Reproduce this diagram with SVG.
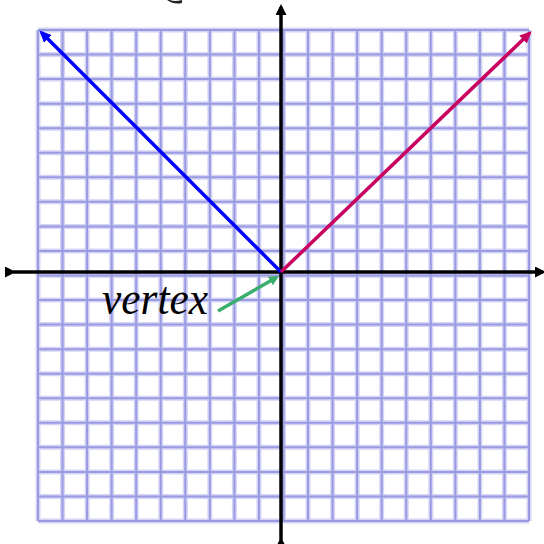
<svg xmlns="http://www.w3.org/2000/svg" width="544" height="544" viewBox="0 0 544 544">
<style>
.gridw{fill:none;stroke:#d4d4f5;stroke-width:5}
.gridc{fill:none;stroke:#9a9ae3;stroke-width:2}
.axis{fill:none;stroke:#000;stroke-width:3.5}
.label{font-family:"Liberation Serif","Times New Roman",serif;font-style:italic;font-size:46px;fill:#000}
</style>
<defs>
<marker id="ahK" markerUnits="userSpaceOnUse" markerWidth="12" markerHeight="11" refX="8" refY="5.5" orient="auto"><path d="M0,0 L11,5.5 L0,11 z" fill="#000"/></marker>
<marker id="ahB" markerUnits="userSpaceOnUse" markerWidth="13" markerHeight="11" refX="9" refY="5.5" orient="auto"><path d="M0,0 L12,5.5 L0,11 z" fill="#0000ff"/></marker>
<marker id="ahM" markerUnits="userSpaceOnUse" markerWidth="13" markerHeight="11" refX="9" refY="5.5" orient="auto"><path d="M0,0 L12,5.5 L0,11 z" fill="#c8005f"/></marker>
<marker id="ahG" markerUnits="userSpaceOnUse" markerWidth="11" markerHeight="10" refX="7" refY="5" orient="auto"><path d="M0,0 L10,5 L0,10 z" fill="#3aae6c"/></marker>
</defs>
<rect width="544" height="544" fill="#fff"/>
<path d="M167,0 Q174,5 182,3 L182,0 Q175,2 170,0 z" fill="#222"/>
<g id="grid">
<path class="gridw" d="M38,30V521M62.55,30V521M87.1,30V521M111.65,30V521M136.2,30V521M160.75,30V521M185.3,30V521M209.85,30V521M234.4,30V521M258.95,30V521M283.5,30V521M308.05,30V521M332.6,30V521M357.15,30V521M381.7,30V521M406.25,30V521M430.8,30V521M455.35,30V521M479.9,30V521M504.45,30V521M529,30V521M38,30H529M38,54.55H529M38,79.1H529M38,103.65H529M38,128.2H529M38,152.75H529M38,177.3H529M38,201.85H529M38,226.4H529M38,250.95H529M38,275.5H529M38,300.05H529M38,324.6H529M38,349.15H529M38,373.7H529M38,398.25H529M38,422.8H529M38,447.35H529M38,471.9H529M38,496.45H529M38,521H529"/>
<path class="gridc" d="M38,30V521M62.55,30V521M87.1,30V521M111.65,30V521M136.2,30V521M160.75,30V521M185.3,30V521M209.85,30V521M234.4,30V521M258.95,30V521M283.5,30V521M308.05,30V521M332.6,30V521M357.15,30V521M381.7,30V521M406.25,30V521M430.8,30V521M455.35,30V521M479.9,30V521M504.45,30V521M529,30V521M38,30H529M38,54.55H529M38,79.1H529M38,103.65H529M38,128.2H529M38,152.75H529M38,177.3H529M38,201.85H529M38,226.4H529M38,250.95H529M38,275.5H529M38,300.05H529M38,324.6H529M38,349.15H529M38,373.7H529M38,398.25H529M38,422.8H529M38,447.35H529M38,471.9H529M38,496.45H529M38,521H529"/>
</g>
<g id="connectors">
<line id="x-axis" class="axis" x1="13" y1="272" x2="543" y2="272" marker-start="url(#ahK)" marker-end="url(#ahK)"/>
<line id="y-axis" class="axis" x1="281" y1="540" x2="281" y2="7" marker-start="url(#ahK)" marker-end="url(#ahK)"/>
<line id="left-branch" x1="281" y1="272" x2="41.5" y2="32.5" stroke="#0000ff" stroke-width="3.5" marker-end="url(#ahB)"/>
<line id="right-branch" x1="281" y1="272" x2="529.5" y2="33.3" stroke="#c8005f" stroke-width="3.5" marker-end="url(#ahM)"/>
<line id="vertex-pointer" x1="218" y1="311" x2="276.4" y2="277.5" stroke="#3aae6c" stroke-width="3.5" marker-end="url(#ahG)"/>
</g>
<g id="vertex-label">
<text class="label" x="102" y="314" textLength="106" lengthAdjust="spacingAndGlyphs">vertex</text>
</g>
</svg>
